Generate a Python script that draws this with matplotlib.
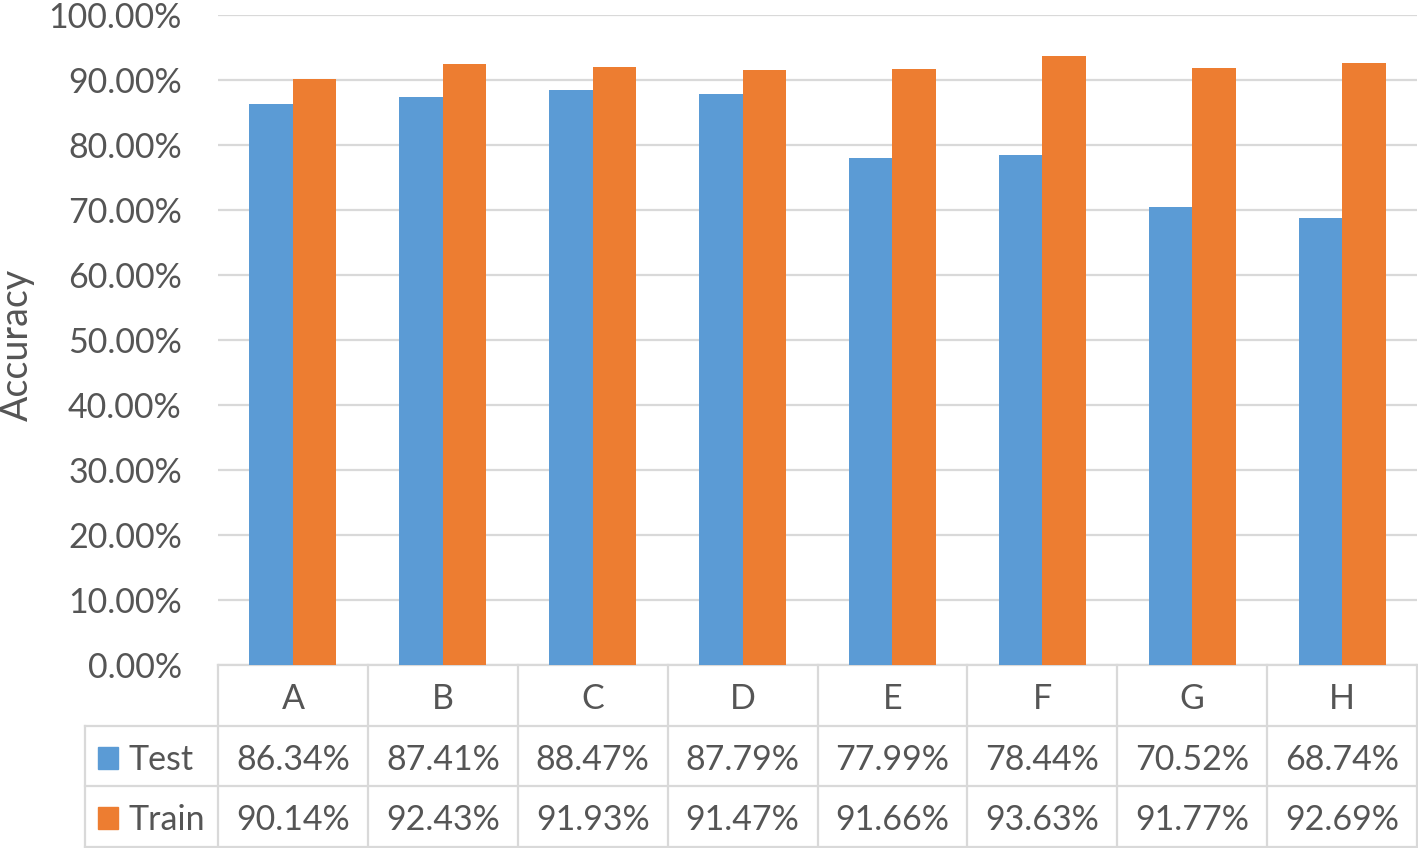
import matplotlib
matplotlib.use("Agg")
import matplotlib.pyplot as plt
from matplotlib.patches import Rectangle
from matplotlib.ticker import FuncFormatter

# data
categories = ["A", "B", "C", "D", "E", "F", "G", "H"]
test_acc = [86.34, 87.41, 88.47, 87.79, 77.99, 78.44, 70.52, 68.74]
train_acc = [90.14, 92.43, 91.93, 91.47, 91.66, 93.63, 91.77, 92.69]
series_names = ["Test", "Train"]

BLUE = "#5b9bd5"
ORANGE = "#ed7d31"
TEXT = "#555555"
GRID = "#d9d9d9"
FONT = "Lato"
FS = 24.5

W, H = 1418, 848
fig = plt.figure(figsize=(W / 100, H / 100), dpi=100)
ax = fig.add_axes([218 / W, 1 - 665 / H, 1199 / W, 650 / H])

x = list(range(len(categories)))
bw = 0.29
ax.bar([i - bw / 2 for i in x], test_acc, width=bw, color=BLUE, zorder=3)
ax.bar([i + bw / 2 for i in x], train_acc, width=bw, color=ORANGE, zorder=3)

ax.set_xlim(-0.5, len(categories) - 0.5)
ax.set_ylim(0, 100)
ax.set_yticks(range(0, 101, 10))
ax.yaxis.set_major_formatter(FuncFormatter(lambda v, p: f"{v:.2f}%"))
ax.set_xticks([])
ax.tick_params(axis="y", length=0, pad=26, labelsize=FS, labelcolor=TEXT)
for lab in ax.get_yticklabels():
    lab.set_fontfamily(FONT)
ax.grid(axis="y", color=GRID, linewidth=1.6, zorder=0)
for s in ax.spines.values():
    s.set_visible(False)

fig.text(17 / W, 1 - 345 / H, "Accuracy", rotation=90, ha="center", va="center",
         fontsize=27, color=TEXT, family=FONT)

# data table below the axes (axes-y units)
row_h = 60.5 / 650
y_hdr = -row_h
y_r1 = -2 * row_h
y_r2 = -3 * row_h
left_x = -0.5 - (218 - 85) / 150  # data units
dy = 4 / 650  # text sits a bit low in the cells

lw = 1.6
kw = dict(color=GRID, linewidth=lw, clip_on=False, transform=ax.get_xaxis_transform())
# horizontal lines
ax.plot([-0.5, len(categories) - 0.5], [0, 0], **kw)
for yy in (y_hdr, y_r1, y_r2):
    ax.plot([left_x, len(categories) - 0.5], [yy, yy], **kw)
# vertical lines
for k in range(len(categories) + 1):
    ax.plot([k - 0.5, k - 0.5], [0, y_r2], **kw)
ax.plot([left_x, left_x], [y_hdr, y_r2], **kw)

tkw = dict(ha="center", va="center", fontsize=FS, color=TEXT, family=FONT,
           transform=ax.get_xaxis_transform(), clip_on=False)
for i, c in enumerate(categories):
    ax.text(i, y_hdr / 2 - dy, c, **tkw)
    ax.text(i, (y_hdr + y_r1) / 2 - dy, f"{test_acc[i]:.2f}%", **tkw)
    ax.text(i, (y_r1 + y_r2) / 2 - dy, f"{train_acc[i]:.2f}%", **tkw)

# legend keys in table
sq = 20 / 150
sq_h = 22 / 650
for yy0, yy1, name, col in ((y_hdr, y_r1, series_names[0], BLUE),
                            (y_r1, y_r2, series_names[1], ORANGE)):
    yc = (yy0 + yy1) / 2
    ax.add_patch(Rectangle((left_x + 13 / 150, yc - sq_h / 2 - dy / 2), sq, sq_h, color=col,
                           transform=ax.get_xaxis_transform(), clip_on=False))
    ax.text(left_x + 43 / 150, yc - dy, name, ha="left", va="center", fontsize=FS,
            color=TEXT, family=FONT, transform=ax.get_xaxis_transform(), clip_on=False)

fig.savefig("out.png", dpi=100, facecolor="white")
